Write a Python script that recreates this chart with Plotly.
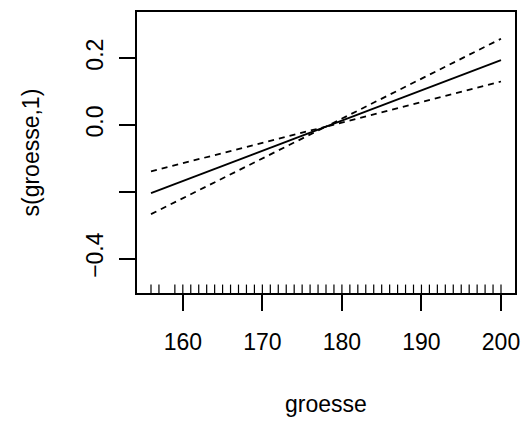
import plotly.graph_objects as go

# Smooth term s(groesse,1) from a GAM: fit and +/- 2 s.e. bands
groesse_grid = [156, 178, 200]
fit = [-0.204, -0.005, 0.194]
upper = [-0.139, -0.005, 0.258]
lower = [-0.267, -0.005, 0.130]

# observed groesse values (rug)
rug_values = [156, 157] + list(range(159, 201))

x_ticks = [160, 170, 180, 190, 200]
y_ticks = [-0.4, -0.2, 0.0, 0.2]
y_ticktext = ["\u22120.4", "", "0.0", "0.2"]

x_range = [154.24, 201.76]
y_range = [-0.503, 0.338]

FONT = "Liberation Sans, Arial, Helvetica, sans-serif"
FS = 23

fig = go.Figure()

fig.add_trace(go.Scatter(x=groesse_grid, y=fit, mode="lines",
                         line=dict(color="black", width=1.8), showlegend=False))
fig.add_trace(go.Scatter(x=groesse_grid, y=upper, mode="lines",
                         line=dict(color="black", width=1.8, dash="6px,5px"), showlegend=False))
fig.add_trace(go.Scatter(x=groesse_grid, y=lower, mode="lines",
                         line=dict(color="black", width=1.8, dash="6px,5px"), showlegend=False))

# rug
rug_len = 0.03 * (y_range[1] - y_range[0])
rx, ry = [], []
for v in rug_values:
    rx += [v, v, None]
    ry += [y_range[0], y_range[0] + rug_len, None]
fig.add_trace(go.Scatter(x=rx, y=ry, mode="lines",
                         line=dict(color="black", width=1.2), showlegend=False))

L, R, T, B = 137, 16, 10, 128
W, H = 531, 421
ph = H - T - B

fig.update_layout(
    width=W, height=H,
    margin=dict(l=L, r=R, t=T, b=B, pad=0),
    plot_bgcolor="white", paper_bgcolor="white",
    font=dict(family=FONT, size=FS, color="black"),
    xaxis=dict(range=x_range, tickvals=x_ticks, ticks="outside", ticklen=16,
               tickwidth=1.5, tickcolor="black", showgrid=False, zeroline=False,
               showline=True, linecolor="black", linewidth=1.8, mirror=True,
               ticklabelstandoff=11, tickfont=dict(size=FS)),
    yaxis=dict(range=y_range, tickvals=y_ticks, ticktext=y_ticktext, ticks="outside",
               ticklen=16, tickwidth=1.5, tickcolor="black", showgrid=False,
               zeroline=False, showline=True, linecolor="black", linewidth=1.8,
               mirror=True, tickangle=-90, ticklabelstandoff=7,
               tickfont=dict(size=FS)),
    annotations=[
        dict(text="groesse", xref="paper", yref="paper", x=0.5, y=-(405 - (H - B)) / ph,
             xanchor="center", yanchor="middle", showarrow=False, font=dict(size=FS)),
        dict(text="s(groesse,1)", xref="paper", yref="paper", x=-(L - 30) / (W - L - R),
             y=0.5, xanchor="center", yanchor="middle", textangle=-90, showarrow=False,
             font=dict(size=FS)),
    ],
)

fig.write_html("out.html")
